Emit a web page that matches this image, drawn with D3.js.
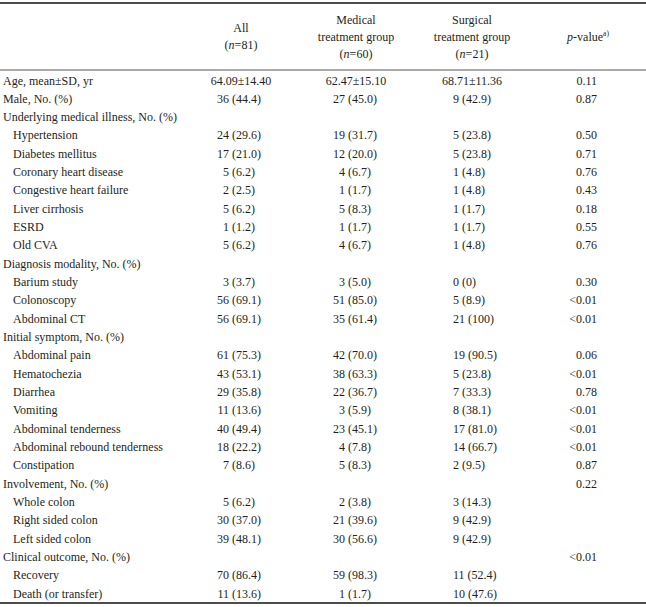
<!DOCTYPE html>
<html>
<head>
<meta charset="utf-8">
<script src="https://cdn.jsdelivr.net/npm/d3@7"></script>
<style>
  body { margin: 0; background: #fff; }
  svg text { font-family: "Liberation Serif", "DejaVu Serif", serif; font-size: 12px; fill: #231f20; }
</style>
</head>
<body>
<svg width="646" height="607"></svg>
<script>
// table rows
const labels = [
  "Age, mean\u00b1SD, yr", "Male, No. (%)", "Underlying medical illness, No. (%)",
  "Hypertension", "Diabetes mellitus", "Coronary heart disease", "Congestive heart failure",
  "Liver cirrhosis", "ESRD", "Old CVA",
  "Diagnosis modality, No. (%)", "Barium study", "Colonoscopy", "Abdominal CT",
  "Initial symptom, No. (%)", "Abdominal pain", "Hematochezia", "Diarrhea", "Vomiting",
  "Abdominal tenderness", "Abdominal rebound tenderness", "Constipation",
  "Involvement, No. (%)", "Whole colon", "Right sided colon", "Left sided colon",
  "Clinical outcome, No. (%)", "Recovery", "Death (or transfer)"
];
const indented = [0,0,0,1,1,1,1,1,1,1,0,1,1,1,0,1,1,1,1,1,1,1,0,1,1,1,0,1,1];
const allGroup = ["64.09\u00b114.40","36 (44.4)","","24 (29.6)","17 (21.0)","5 (6.2)","2 (2.5)","5 (6.2)","1 (1.2)","5 (6.2)",
  "","3 (3.7)","56 (69.1)","56 (69.1)","","61 (75.3)","43 (53.1)","29 (35.8)","11 (13.6)","40 (49.4)","18 (22.2)","7 (8.6)",
  "","5 (6.2)","30 (37.0)","39 (48.1)","","70 (86.4)","11 (13.6)"];
const medical = ["62.47\u00b115.10","27 (45.0)","","19 (31.7)","12 (20.0)","4 (6.7)","1 (1.7)","5 (8.3)","1 (1.7)","4 (6.7)",
  "","3 (5.0)","51 (85.0)","35 (61.4)","","42 (70.0)","38 (63.3)","22 (36.7)","3 (5.9)","23 (45.1)","4 (7.8)","5 (8.3)",
  "","2 (3.8)","21 (39.6)","30 (56.6)","","59 (98.3)","1 (1.7)"];
const surgical = ["68.71\u00b111.36","9 (42.9)","","5 (23.8)","5 (23.8)","1 (4.8)","1 (4.8)","1 (1.7)","1 (1.7)","1 (4.8)",
  "","0 (0)","5 (8.9)","21 (100)","","19 (90.5)","5 (23.8)","7 (33.3)","8 (38.1)","17 (81.0)","14 (66.7)","2 (9.5)",
  "","3 (14.3)","9 (42.9)","9 (42.9)","","11 (52.4)","10 (47.6)"];
const pValues = ["0.11","0.87","","0.50","0.71","0.76","0.43","0.18","0.55","0.76",
  "","0.30","<0.01","<0.01","","0.06","<0.01","0.78","<0.01","<0.01","<0.01","0.87",
  "0.22","","","","<0.01","",""];

const columns = [
  { values: allGroup, head: ["All", "(n=81)"], center: 241, split: 229 },
  { values: medical, head: ["Medical", "treatment group", "(n=60)"], center: 356, split: 345 },
  { values: surgical, head: ["Surgical", "treatment group", "(n=21)"], center: 472, left: 453 }
];

const svg = d3.select("svg");
const W = 646;

const y = d3.scalePoint()
  .domain(d3.range(labels.length))
  .range([80, 593]);

const ruleTop = 3, ruleHead = 70, ruleBottom = 603;

// rules
svg.append("line").attr("x1", 0).attr("x2", W).attr("y1", ruleTop).attr("y2", ruleTop)
  .attr("stroke", "#111").attr("stroke-width", 1.6);
svg.append("line").attr("x1", 0).attr("x2", W).attr("y1", ruleHead).attr("y2", ruleHead)
  .attr("stroke", "#555").attr("stroke-width", 1);
svg.append("line").attr("x1", 0).attr("x2", W).attr("y1", ruleBottom).attr("y2", ruleBottom)
  .attr("stroke", "#111").attr("stroke-width", 1.6);

// header
columns.forEach(c => {
  const n = c.head.length;
  const top = n === 3 ? 23.5 : 32;
  c.head.forEach((h, i) => {
    const t = svg.append("text")
      .attr("x", c.center)
      .attr("y", top + i * 17)
      .attr("text-anchor", "middle");
    const m = h.match(/^\(n(=\d+)\)$/);
    if (m) {
      t.append("tspan").text("(");
      t.append("tspan").attr("font-style", "italic").text("n");
      t.append("tspan").text(m[1] + ")");
    } else {
      t.text(h);
    }
  });
});
const pHead = svg.append("text").attr("x", 588).attr("y", 40.5).attr("text-anchor", "middle");
pHead.append("tspan").attr("font-style", "italic").text("p");
pHead.append("tspan").text("-value");
pHead.append("tspan").attr("font-size", "7.5px").attr("dy", -4.5).text("a)");

// row labels
svg.selectAll("text.label")
  .data(labels)
  .enter()
  .append("text")
  .attr("class", "label")
  .attr("x", (d, i) => indented[i] ? 13 : 3)
  .attr("y", (d, i) => y(i) + 4.5)
  .text(d => d);

// value cells
columns.forEach(c => {
  c.values.forEach((v, i) => {
    if (!v) return;
    const yy = y(i) + 4.5;
    if (v.includes("\u00b1")) {
      svg.append("text").attr("x", c.center).attr("y", yy).attr("text-anchor", "middle").text(v);
    } else if (c.left !== undefined) {
      svg.append("text").attr("x", c.left).attr("y", yy).text(v);
    } else {
      const parts = v.split(" ");
      svg.append("text").attr("x", c.split).attr("y", yy).attr("text-anchor", "end").text(parts[0]);
      svg.append("text").attr("x", c.split + 3).attr("y", yy).text(parts[1]);
    }
  });
});

svg.selectAll("text.pval")
  .data(pValues)
  .enter()
  .append("text")
  .attr("class", "pval")
  .attr("x", 597)
  .attr("y", (d, i) => y(i) + 4.5)
  .attr("text-anchor", "end")
  .text(d => d);
</script>
</body>
</html>
